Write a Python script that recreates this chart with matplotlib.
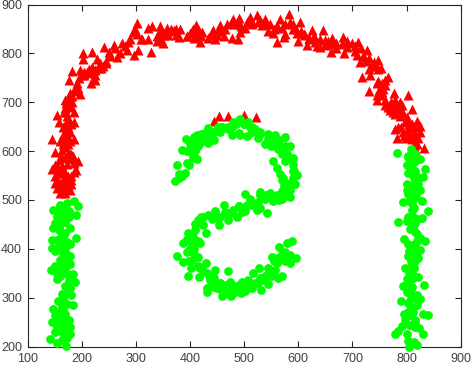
import matplotlib
matplotlib.use('Agg')
import matplotlib.pyplot as plt

# values
red_x = [146,150,155,160,165,170,175,180,172,165,160,170,178,155,150,158,165,180,185,189,193,184,181,159,173,
         151,163,171,145,160,166,179,186,186,186,154,159,170,173,170,176,170,182,179,188,197,194,176,182,197,195,213,
         168,175,162,172,165,175,168,172,178,170,175,180,185,190,205,210,220,225,218,
         202,202,219,228,234,245,241,259,250,253,266,275,286,283,296,304,294,303,302,311,323,328,323,330,339,345,351,345,357,370,379,382,
         403,412,418,410,422,434,443,450,456,468,480,483,477,489,
         350,360,365,375,395,400,408,415,440,447,455,462,
         490,511,523,514,502,493,538,548,533,566,582,560,554,573,570,585,603,597,590,613,626,645,616,631,640,650,660,663,683,685,680,699,711,727,709,714,730,722,
         747,739,730,748,717,733,748,765,757,731,751,745,776,802,779,791,810,760,770,785,794,819,825,797,785,779,807,794,782,799,816,822,813,833,
         560,575,600,620,635,655,670,690,705,745,755,760,775,782,788,800,805,812,
         499,522,453,470,444,
         150,155,160,170,175,180,168,175,155,163,
         170,175,165,172,178,170,175,180,172,178,
         175,183,186,192,200,205,215,225,232,240,
         235,225,245,252,262,270,280,290,298,310,
         340,345,352,358,365,375,395,405,412,420,
         438,445,452,458,465,475,490,495,505,515,
         525,530,540,545,555,560,575,590,595,605,
         610,620,630,640,650,660,670,690,705,715,
         720,725,735,742,752,760,755,750,745,770,
         775,780,790,788,800,805,790,810,815,805,
         810,820,800,795,825,815,778,765,772,760]
red_y = [563,572,570,560,555,545,540,532,530,528,515,515,520,540,548,528,540,550,557,562,579,590,583,581,574,
         599,603,608,624,620,633,640,624,660,679,674,660,654,671,688,691,704,701,718,730,717,730,746,764,766,749,769,
         610,625,590,640,650,665,680,698,712,630,615,595,575,725,755,762,772,745,740,
         801,788,803,788,780,780,814,817,803,796,792,822,824,807,796,807,844,862,839,829,829,803,851,856,826,846,822,832,851,848,834,849,
         846,858,824,837,844,831,848,837,858,861,871,861,832,830,
         840,838,845,838,835,842,832,850,840,830,845,835,
         873,875,878,864,851,844,871,861,858,871,880,824,841,834,851,864,864,841,850,837,847,847,817,824,814,817,803,832,834,801,820,822,823,807,797,783,790,793,
         787,783,769,769,751,755,744,751,728,723,714,704,718,714,704,694,687,694,684,677,677,662,652,660,650,645,647,640,626,626,636,626,612,607,
         855,840,825,832,815,825,810,812,805,740,720,705,690,680,672,668,650,632,
         673,670,671,671,661,
         535,525,535,525,530,540,560,550,555,570,
         585,595,615,625,620,640,650,655,680,695,
         705,712,722,740,755,762,760,765,770,775,
         770,755,785,795,810,800,815,830,850,830,
         835,855,838,840,850,850,835,850,845,835,
         840,838,845,845,850,862,860,855,865,860,
         865,868,860,845,850,855,860,860,850,845,
         840,830,835,830,828,820,822,825,815,810,
         795,785,775,775,770,745,740,725,715,690,
         680,690,680,700,670,655,650,655,650,635,
         625,615,640,630,640,605,675,690,700,735]

green_x = [373,376,379,391,398,413,385,403,400,413,419,434,434,452,456,477,490,480,490,
           393,400,408,415,420,425,430,438,445,460,470,395,405,
           493,508,493,505,526,520,539,557,576,585,563,554,576,591,597,566,570,594,585,570,548,530,
           500,515,530,545,552,565,575,580,590,593,560,572,583,
           588,573,585,570,554,548,530,511,501,539,530,523,543,502,490,486,497,
           462,490,474,471,453,446,434,450,425,414,430,425,410,397,419,387,394,403,377,388,403,414,402,397,416,430,419,431,446,471,437,431,431,456,459,475,486,468,474,450,442,
           483,502,514,496,508,517,527,531,520,545,539,545,557,563,570,551,560,560,565,576,573,585,585,596,588,580,546,536,
           455,463,478,490,465,510,440,445,480,415,405,398,408,
           173,186,194,148,157,166,176,190,151,163,176,148,159,178,170,190,145,154,173,179,146,151,163,179,160,166,178,150,143,160,170,184,154,176,176,187,170,178,163,180,157,166,184,173,148,163,170,151,146,157,176,154,166,178,151,179,166,141,154,163,173,171,
           160,165,170,158,162,172,168,165,160,155,165,170,172,168,175,160,165,170,175,
           782,816,803,825,800,834,803,816,831,819,800,822,810,803,
           819,800,825,793,828,810,813,839,785,803,828,800,816,810,816,796,803,834,825,819,825,816,803,822,810,797,813,800,822,794,833,810,800,819,825,789,803,819,810,795,831,839,807,797,816,791,816,823,785,779,830,800,803,813,819,805,
           808,812,815,818,810,806,812,815,810,805,808,812,815,806,810,803,808,812,806,810,805,812,
           380,385,395,405,410,415,425,440,445,460,
           470,478,485,500,510,515,530,545,550,565,
           570,580,585,590,590,578,575,560,555,540,
           575,565,525,515,505,480,470,465,455,440,
           420,410,405,395,400,405,410,398,415,425,
           435,440,445,455,465,470,480,490,505,525,
           530,550,550,575,570,580,555,495,462,445,
           160,170,155,165,160,170,165,165,158,170,
           170,175,165,172,160,178,175,165,160,165,
           810,815,808,812,815,810,805,820,812,820,
           815,812,808,805,812,808,812,808,802,806]
green_y = [539,571,553,556,571,583,603,596,620,633,616,616,647,650,640,633,636,660,664,
           625,615,628,622,635,628,640,630,622,650,645,600,610,
           665,660,632,630,627,646,615,632,628,610,605,580,579,572,552,553,541,533,521,518,511,511,
           655,650,640,635,620,622,610,595,585,560,565,545,525,
           535,528,506,501,497,514,516,502,513,501,484,480,473,477,487,466,475,
           489,488,473,458,449,477,470,462,466,458,433,448,439,432,411,411,394,408,385,372,377,383,360,345,343,370,360,350,357,354,336,319,311,329,304,304,313,322,333,319,345,
           312,314,319,333,336,350,360,315,329,328,344,360,357,341,344,384,381,370,403,394,383,370,387,381,415,412,349,337,
           330,320,325,320,312,325,328,322,318,415,425,395,400,
           494,497,487,479,473,480,477,470,453,456,466,442,439,442,432,422,417,418,413,409,401,396,398,386,377,385,368,365,357,360,360,348,339,346,336,331,324,319,308,305,293,298,284,287,276,280,267,264,250,254,254,240,243,240,230,226,228,216,208,214,218,202,
           485,465,455,445,425,405,395,375,355,350,275,255,245,235,225,262,250,232,240,
           597,594,587,583,571,564,555,559,546,546,533,533,520,512,
           538,521,521,496,497,494,484,477,455,466,463,456,453,446,435,420,409,416,422,415,398,387,385,381,370,360,360,339,343,324,325,322,312,305,298,294,289,284,277,267,267,265,264,254,254,242,240,238,232,225,226,226,212,210,203,199,
           605,575,540,505,470,440,400,375,350,330,300,270,250,245,600,590,580,530,510,480,395,365,
           545,550,575,585,600,610,625,635,640,650,
           650,650,655,655,650,640,635,625,610,615,
           595,590,585,560,545,535,520,510,505,510,
           510,500,495,490,490,480,470,475,465,460,
           465,450,425,420,400,395,385,375,365,355,
           345,330,325,318,315,310,320,325,325,330,
           340,345,355,375,390,380,375,310,325,340,
           490,480,465,465,450,455,425,410,405,395,
           375,378,365,350,345,330,310,290,270,258,
           590,580,565,550,525,510,498,460,445,430,
           410,395,375,350,340,310,300,280,270,245]

xticks = [100,200,300,400,500,600,700,800,900]
yticks = [200,300,400,500,600,700,800,900]

plt.rcParams['font.family'] = ['Liberation Sans', 'DejaVu Sans']
W, H = 471, 367
fig = plt.figure(figsize=(W / 100, H / 100), dpi=100)
ax = fig.add_axes([27.5 / W, 1 - 346.5 / H, 433.2 / W, 342 / H])

ax.scatter(red_x, red_y, marker='^', s=52, c='#ff0000', linewidths=0, clip_on=False, zorder=3)
ax.scatter(green_x, green_y, marker='o', s=40, c='#00ff00', linewidths=0, clip_on=False, zorder=4)

ax.set_xlim(100, 900)
ax.set_ylim(200, 900)
ax.set_xticks(xticks)
ax.set_yticks(yticks)
ax.tick_params(direction='in', top=True, right=True, length=4, width=0.8, color='#262626',
               labelsize=9, labelcolor='#404040')
ax.tick_params(axis='x', pad=5)
ax.tick_params(axis='y', pad=4)
for s in ax.spines.values():
    s.set_linewidth(0.8)
    s.set_color('#262626')

fig.savefig('out.png', dpi=100)
